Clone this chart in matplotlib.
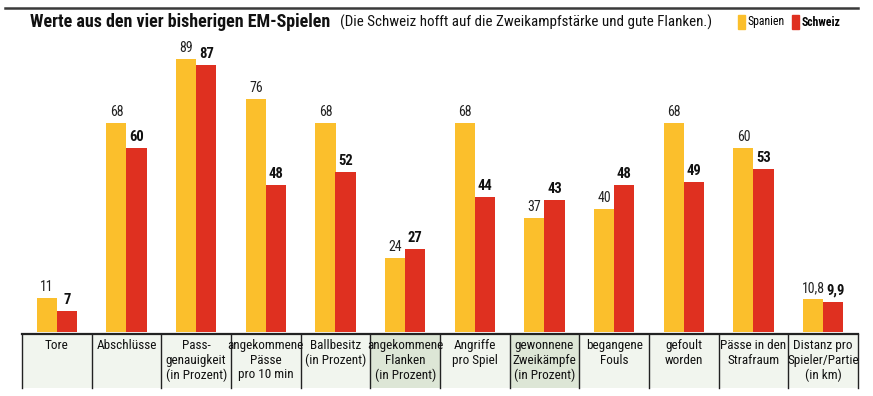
import matplotlib
matplotlib.use("Agg")
import matplotlib.pyplot as plt
from matplotlib.patches import Rectangle
from matplotlib import font_manager

categories = ["Tore", "Abschlüsse", "Pass-\ngenauigkeit\n(in Prozent)", "angekommene\nPässe\npro 10 min",
              "Ballbesitz\n(in Prozent)", "angekommene\nFlanken\n(in Prozent)", "Angriffe\npro Spiel",
              "gewonnene\nZweikämpfe\n(in Prozent)", "begangene\nFouls", "gefoult\nworden",
              "Pässe in den\nStrafraum", "Distanz pro\nSpieler/Partie\n(in km)"]
spanien = [11, 68, 89, 76, 68, 24, 68, 37, 40, 68, 60, 10.8]
schweiz = [7, 60, 87, 48, 52, 27, 44, 43, 48, 49, 53, 9.9]
shaded = [5, 7]

names = {f.name for f in font_manager.fontManager.ttflist}
narrow = "DejaVu Sans"
for cand in ["Roboto Condensed", "Barlow Condensed", "Asap Condensed", "Archivo Narrow"]:
    if cand in names:
        narrow = cand
        break
FAM = [narrow, "DejaVu Sans"]

C_ESP = "#fbbf2c"
C_SUI = "#df3020"

W, H = 873, 396
fig = plt.figure(figsize=(W / 100, H / 100), dpi=100)
fig.patch.set_facecolor("white")

def fx(px):
    return px / W

def fy(py):
    return 1 - py / H

# top rule
fig.add_artist(plt.Line2D([fx(5), fx(858)], [fy(8), fy(8)], color="#3a3a3a", lw=1.8))

# title
fig.text(fx(30), fy(22), "Werte aus den vier bisherigen EM-Spielen", fontsize=13, fontweight="bold",
         family=FAM, va="center", ha="left", color="#111111")
fig.text(fx(340), fy(22), "(Die Schweiz hofft auf die Zweikampfstärke und gute Flanken.)", fontsize=10.8,
         family=FAM, va="center", ha="left", color="#111111")

# legend
fig.add_artist(Rectangle((fx(738), fy(29)), fx(7), (14) / H, color=C_ESP, transform=fig.transFigure))
fig.text(fx(748), fy(22), "Spanien", fontsize=8.5, family=FAM, va="center", ha="left")
fig.add_artist(Rectangle((fx(792), fy(29)), fx(7), (14) / H, color=C_SUI, transform=fig.transFigure))
fig.text(fx(802), fy(22), "Schweiz", fontsize=8.5, fontweight="bold", family=FAM,
         va="center", ha="left")

# bar axes
left, right = 22, 858
ax = fig.add_axes([fx(left), fy(332), (right - left) / W, (332 - 40) / H])
n = len(categories)
ax.set_xlim(0, n)
ax.set_ylim(0, 95.1)
ax.axis("off")
bw = 0.29
xs = [i + 0.5 for i in range(n)]

def fmt(v):
    return (f"{v:.1f}".replace(".", ",")) if v != int(v) else str(int(v))

for i in range(n):
    ax.bar(xs[i] - bw / 2, spanien[i], width=bw, color=C_ESP, linewidth=0)
    ax.bar(xs[i] + bw / 2, schweiz[i], width=bw, color=C_SUI, linewidth=0)
    ax.text(xs[i] - bw / 2, spanien[i] + 1.3, fmt(spanien[i]), ha="center", va="bottom", fontsize=10,
            family=FAM, color="#222222")
    ax.text(xs[i] + bw / 2 + (0.03 if i == n - 1 else 0), schweiz[i] + 1.3, fmt(schweiz[i]), ha="center",
            va="bottom", fontsize=10.5, fontweight="bold", family=FAM, color="#111111")

# table axes
tax = fig.add_axes([fx(left), fy(388), (right - left) / W, (388 - 334) / H])
tax.set_xlim(0, n)
tax.set_ylim(1, 0)
tax.axis("off")
for i in range(n):
    fc = "#dde6d6" if i in shaded else "#f1f5ee"
    tax.add_patch(Rectangle((i, 0), 1, 1, facecolor=fc, edgecolor="none"))
    tax.text(i + 0.5, 0.1, categories[i], ha="center", va="top", fontsize=9.5,
             family=FAM, linespacing=1.15, color="#111111")
for i in range(n + 1):
    tax.plot([i, i], [0, 1], color="#222222", lw=1.0, clip_on=False)
tax.plot([0, n], [0, 0], color="#222222", lw=1.6, clip_on=False)

fig.savefig("out.png", dpi=100, facecolor="white")
